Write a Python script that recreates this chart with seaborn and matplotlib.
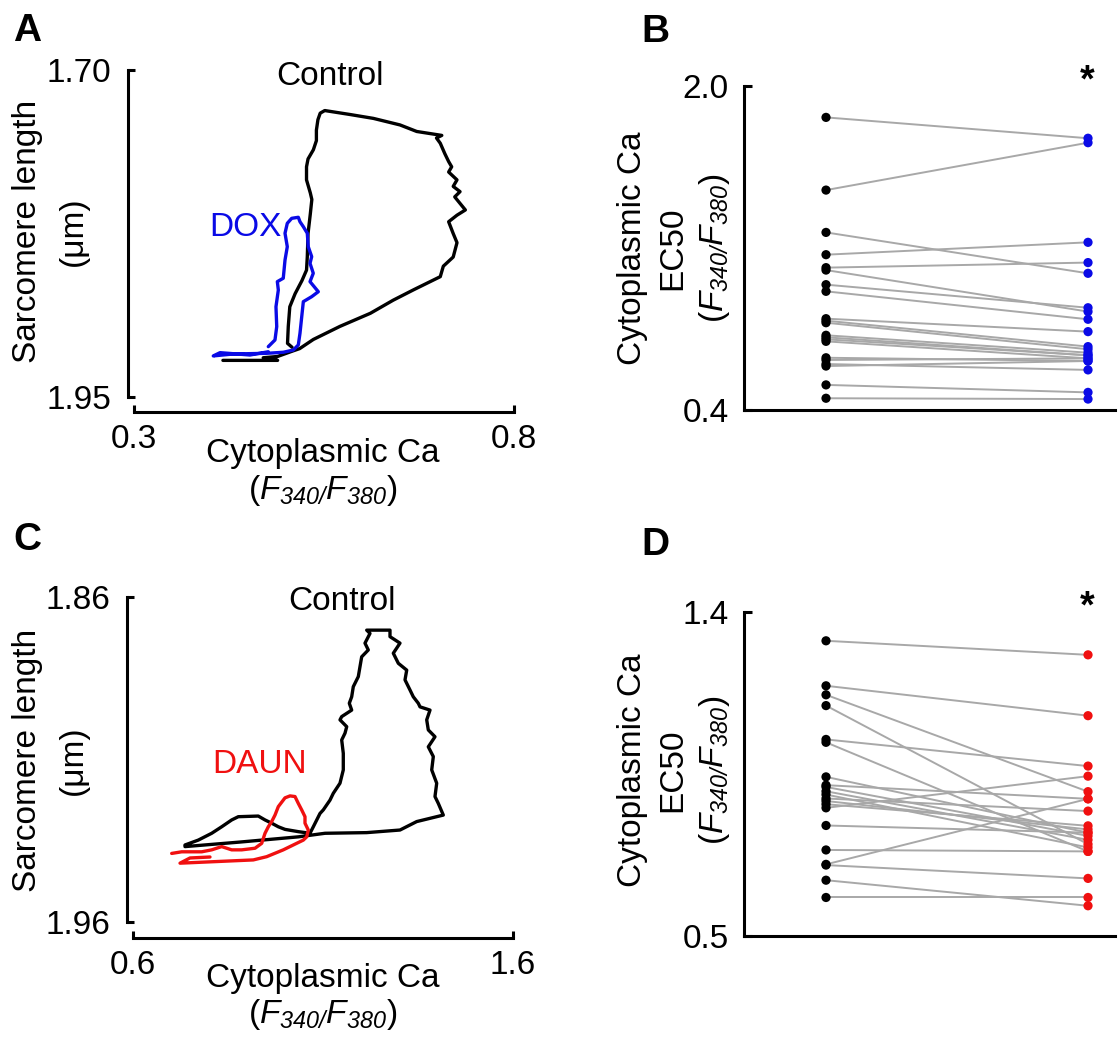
import numpy as np
import pandas as pd
import matplotlib
matplotlib.use("Agg")
import matplotlib.pyplot as plt
import seaborn as sns

# ---------------- data ----------------
# Panel A: Control loop (Ca ratio, sarcomere length)
a_ctrl_ca = [0.417, 0.489, 0.470, 0.489, 0.508, 0.518, 0.536, 0.571, 0.611, 0.641, 0.668, 0.703,
             0.707, 0.720, 0.725, 0.720, 0.714, 0.725, 0.736, 0.722, 0.729, 0.720, 0.725, 0.714,
             0.718, 0.714, 0.709, 0.703, 0.698, 0.705, 0.672, 0.650, 0.615, 0.584, 0.562, 0.551,
             0.545, 0.542, 0.540, 0.540, 0.536, 0.529, 0.527, 0.527, 0.532, 0.534, 0.532, 0.529,
             0.528, 0.527, 0.521, 0.512, 0.505, 0.503, 0.502, 0.508]
a_ctrl_sl = [1.922, 1.922, 1.920, 1.919, 1.915, 1.913, 1.906, 1.896, 1.886, 1.876, 1.868, 1.858,
             1.850, 1.843, 1.832, 1.825, 1.816, 1.811, 1.807, 1.797, 1.793, 1.789, 1.784, 1.778,
             1.774, 1.770, 1.764, 1.756, 1.752, 1.750, 1.747, 1.742, 1.737, 1.734, 1.732, 1.731,
             1.733, 1.738, 1.746, 1.754, 1.761, 1.768, 1.774, 1.784, 1.794, 1.799, 1.810, 1.825,
             1.843, 1.853, 1.861, 1.871, 1.881, 1.896, 1.909, 1.912]
# Panel A: DOX loop
a_dox_ca = [0.4767, 0.4855, 0.4878, 0.4868, 0.4899, 0.4886, 0.4964, 0.4987, 0.5017, 0.4987,
            0.5017, 0.5075, 0.5162, 0.5184, 0.5228, 0.5280, 0.5293, 0.5338, 0.5316, 0.5359,
            0.5316, 0.5425, 0.5338, 0.5228, 0.5207, 0.5184, 0.5162, 0.5096, 0.4964, 0.4746,
            0.4307, 0.4043, 0.4132, 0.4526, 0.4767]
a_dox_sl = [1.9115, 1.9064, 1.8962, 1.8810, 1.8682, 1.8618, 1.8592, 1.8453, 1.8351, 1.8248,
            1.8172, 1.8134, 1.8126, 1.8160, 1.8198, 1.8248, 1.8351, 1.8427, 1.8478, 1.8554,
            1.8618, 1.8695, 1.8733, 1.8771, 1.8886, 1.9013, 1.9102, 1.9141, 1.9158, 1.9166,
            1.9171, 1.9186, 1.9161, 1.9179, 1.9154]

# Panel C: Control loop
c_ctrl_ca = [0.7368, 0.8816, 1.0350, 1.1053, 1.2150, 1.3026, 1.3466, 1.4166, 1.4034, 1.3947,
             1.3992, 1.3861, 1.3903, 1.3771, 1.3947, 1.3771, 1.3729, 1.3816, 1.3553, 1.3508,
             1.3376, 1.3289, 1.3158, 1.3203, 1.2982, 1.2850, 1.3026, 1.2763, 1.2763, 1.2150,
             1.2237, 1.2105, 1.2192, 1.2018, 1.1974, 1.1929, 1.1797, 1.1755, 1.1692, 1.1755,
             1.1492, 1.1447, 1.1624, 1.1579, 1.1492, 1.1534, 1.1534, 1.1447, 1.1271, 1.1184,
             1.1008, 1.0921, 1.0745, 1.0658, 1.0350, 1.0000, 0.9824, 0.9650, 0.9474, 0.9297,
             0.8771, 0.8597, 0.8334, 0.8071, 0.7718, 0.7368]
c_ctrl_sl = [1.9368, 1.9354, 1.9338, 1.9327, 1.9325, 1.9317, 1.9291, 1.9271, 1.9235, 1.9214,
             1.9173, 1.9132, 1.9091, 1.9061, 1.9030, 1.9009, 1.8978, 1.8948, 1.8938, 1.8927,
             1.8907, 1.8886, 1.8855, 1.8825, 1.8804, 1.8773, 1.8742, 1.8722, 1.8702, 1.8702,
             1.8712, 1.8742, 1.8763, 1.8784, 1.8814, 1.8845, 1.8876, 1.8907, 1.8927, 1.8948,
             1.8968, 1.8978, 1.8999, 1.9019, 1.9040, 1.9081, 1.9132, 1.9173, 1.9204, 1.9225,
             1.9255, 1.9266, 1.9307, 1.9327, 1.9322, 1.9315, 1.9307, 1.9296, 1.9286, 1.9274,
             1.9276, 1.9286, 1.9307, 1.9327, 1.9348, 1.9363]
# Panel C: DAUN loop
c_daun_ca = [0.7018, 0.7282, 0.7808, 0.8071, 0.8334, 0.8597, 0.8861, 0.9211, 0.9387, 0.9474,
             0.9561, 0.9650, 0.9737, 0.9824, 1.0000, 1.0132, 1.0263, 1.0350, 1.0439, 1.0526,
             1.0526, 1.0613, 1.0571, 1.0482, 1.0218, 0.9955, 0.9518, 0.9166, 0.8203, 0.7237,
             0.7500, 0.8026]
c_daun_sl = [1.9389, 1.9384, 1.9384, 1.9378, 1.9368, 1.9378, 1.9378, 1.9373, 1.9358, 1.9327,
             1.9307, 1.9291, 1.9271, 1.9245, 1.9218, 1.9212, 1.9214, 1.9235, 1.9255, 1.9276,
             1.9296, 1.9317, 1.9338, 1.9348, 1.9363, 1.9378, 1.9399, 1.9409, 1.9414, 1.9419,
             1.9403, 1.9400]

# Panel B: EC50 pairs (Control vs DOX)
b_control = [1.845, 1.486, 1.277, 1.167, 1.103, 1.091, 1.019, 0.986, 0.851, 0.841, 0.831,
             0.769, 0.759, 0.749, 0.739, 0.658, 0.647, 0.627, 0.617, 0.524, 0.458]
b_dox = [1.742, 1.720, 1.075, 1.228, 1.128, 0.886, 0.905, 0.848, 0.787, 0.713, 0.700,
         0.683, 0.670, 0.670, 0.655, 0.642, 0.655, 0.598, 0.642, 0.487, 0.454]
# Panel D: EC50 pairs (Control vs DAUN)
d_control = [1.320, 1.195, 1.170, 1.140, 1.046, 1.038, 0.942, 0.919, 0.914, 0.902, 0.893,
             0.882, 0.875, 0.866, 0.856, 0.807, 0.739, 0.699, 0.697, 0.655, 0.607]
d_daun = [1.281, 1.112, 0.901, 0.755, 0.972, 0.735, 0.787, 0.881, 0.778, 0.767, 0.746,
          0.847, 0.796, 0.806, 0.944, 0.787, 0.735, 0.881, 0.660, 0.584, 0.607]

# ---------------- style ----------------
sns.set_style("ticks")
plt.rcParams["font.family"] = ["Liberation Sans", "DejaVu Sans"]
plt.rcParams["mathtext.fontset"] = "custom"
plt.rcParams["mathtext.rm"] = "Liberation Sans"
plt.rcParams["mathtext.it"] = "Liberation Sans:italic"
plt.rcParams["mathtext.sf"] = "Liberation Sans:italic"
for k in ("text.color", "axes.labelcolor", "xtick.color", "ytick.color", "axes.edgecolor"):
    plt.rcParams[k] = "black"
FS = 24

W, H = 1118, 1039
fig = plt.figure(figsize=(W / 100, H / 100), dpi=100)


def fx(px):
    return px / W


def fy(py):
    return 1 - py / H


def axes_px(left, top, right, bottom):
    return fig.add_axes([left / W, 1 - bottom / H, (right - left) / W, (bottom - top) / H])


SPW = 2.2
BLUE = "#0a0ae6"
RED = "#f01010"
GRAY = "#a8a8a8"


def style_loop_axes(ax, xlim, ylim, left_off, bottom_off):
    ax.set_xlim(*xlim)
    ax.set_ylim(*ylim)
    sns.despine(ax=ax)
    ax.spines["left"].set_position(("outward", left_off))
    ax.spines["bottom"].set_position(("outward", bottom_off))
    for s in ("left", "bottom"):
        ax.spines[s].set_linewidth(SPW)
    ax.set_xticks(list(xlim))
    ax.tick_params(direction="in", length=5, width=SPW, labelsize=FS, pad=9)
    ax.tick_params(axis="y", pad=12)
    ax.set_xlabel("")
    ax.set_ylabel("")


def loop_panel(ax, ca1, sl1, ca2, sl2, c2):
    d1 = pd.DataFrame({"ca": ca1, "sl": sl1})
    d2 = pd.DataFrame({"ca": ca2, "sl": sl2})
    sns.lineplot(data=d1, x="ca", y="sl", sort=False, estimator=None, color="black",
                 lw=2.4, ax=ax)
    sns.lineplot(data=d2, x="ca", y="sl", sort=False, estimator=None, color=c2,
                 lw=2.4, ax=ax)


def pair_panel(ax, ctrl, drug, dcolor, ylim):
    n = len(ctrl)
    df = pd.DataFrame({
        "cond": [0] * n + [1] * n,
        "val": list(ctrl) + list(drug),
        "pair": list(range(n)) * 2,
        "grp": ["ctrl"] * n + ["drug"] * n,
    })
    sns.lineplot(data=df, x="cond", y="val", units="pair", estimator=None, color=GRAY,
                 lw=1.4, ax=ax, zorder=1)
    sns.scatterplot(data=df, x="cond", y="val", hue="grp",
                    palette={"ctrl": "black", "drug": dcolor}, s=44, edgecolor="none",
                    legend=False, ax=ax, zorder=3)
    ax.set_xlim(-0.313, 1.103)
    ax.set_ylim(*ylim)
    sns.despine(ax=ax)
    for s in ("left", "bottom"):
        ax.spines[s].set_linewidth(SPW)
    ax.set_xticks([])
    ax.set_yticks(list(ylim))
    ax.set_yticklabels([f"{v:.1f}" for v in ylim])
    ax.tick_params(axis="y", direction="in", length=6, width=SPW, labelsize=FS, pad=11)
    ax.set_xlabel("")
    ax.set_ylabel("")


# ---------------- Panel A ----------------
axA = axes_px(134, 70, 514, 397)
loop_panel(axA, a_ctrl_ca, a_ctrl_sl, a_dox_ca, a_dox_sl, BLUE)
style_loop_axes(axA, (0.3, 0.8), (1.95, 1.70), 4.3, 10.8)
axA.set_yticks([1.95, 1.70])
axA.set_yticklabels(["1.95", "1.70"])
axA.set_xticklabels(["0.3", "0.8"])
axA.text(0.558, 1.705, "Control", fontsize=FS, ha="center", va="center")
axA.text(0.446, 1.8205, "DOX", fontsize=FS, ha="center", va="center", color=BLUE)

# ---------------- Panel C ----------------
axC = axes_px(133, 597, 513, 922)
loop_panel(axC, c_ctrl_ca, c_ctrl_sl, c_daun_ca, c_daun_sl, RED)
style_loop_axes(axC, (0.6, 1.6), (1.96, 1.86), 4.3, 11.5)
axC.set_yticks([1.96, 1.86])
axC.set_yticklabels(["1.96", "1.86"])
axC.set_xticklabels(["0.6", "1.6"])
axC.text(1.150, 1.8615, "Control", fontsize=FS, ha="center", va="center")
axC.text(0.934, 1.9115, "DAUN", fontsize=FS, ha="center", va="center", color=RED)

# ---------------- Panel B ----------------
axB = axes_px(744, 86, 1115, 410)
pair_panel(axB, b_control, b_dox, BLUE, (0.4, 2.0))

# ---------------- Panel D ----------------
axD = axes_px(744, 612, 1115, 936)
pair_panel(axD, d_control, d_daun, RED, (0.5, 1.4))

for ys in (81, 607):
    fig.text(fx(1087), fy(ys), "*", fontsize=27, fontweight="bold", ha="center", va="center")

# ---------------- labels ----------------
for yc in (231, 760):
    fig.text(fx(28), fy(yc), "Sarcomere length", rotation=90, fontsize=FS,
             ha="center", va="center")
    fig.text(fx(73), fy(yc), "(μm)", rotation=90, fontsize=FS, ha="center", va="center")

FRAC = r"($\mathit{F}_{\mathsf{340/}}\mathit{F}_{\mathsf{380}}$)"
for y1, y2 in ((453, 491), (979, 1014)):
    fig.text(fx(323), fy(y1), "Cytoplasmic Ca", fontsize=FS, ha="center", va="center")
    fig.text(fx(323), fy(y2), FRAC, fontsize=FS, ha="center", va="center")

for yc in (248, 770):
    fig.text(fx(633), fy(yc), "Cytoplasmic Ca", rotation=90, fontsize=FS,
             ha="center", va="center")
    fig.text(fx(673), fy(yc), "EC50", rotation=90, fontsize=FS, ha="center", va="center")
    fig.text(fx(715), fy(yc), FRAC, rotation=90, fontsize=FS, ha="center", va="center")

for lbl, (px, py) in {"A": (27, 31), "B": (655, 32), "C": (27, 540), "D": (655, 545)}.items():
    fig.text(fx(px), fy(py), lbl, fontsize=28, fontweight="bold", ha="center", va="center")

fig.savefig("out.png", dpi=100)
